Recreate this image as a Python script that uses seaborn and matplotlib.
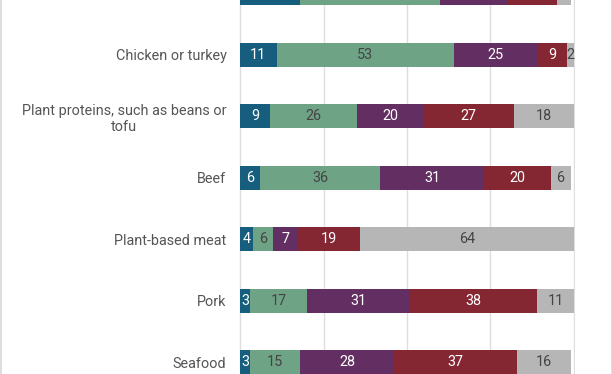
import seaborn as sns
import matplotlib.pyplot as plt
import pandas as pd
import numpy as np
from matplotlib.lines import Line2D

# categories (top to bottom) and the five stacked segments
foods = ["Eggs", "Chicken or turkey", "Plant proteins, such as beans or\ntofu",
         "Beef", "Plant-based meat", "Pork", "Seafood"]
seg1 = [18, 11, 9, 6, 4, 3, 3]
seg2 = [42, 53, 26, 36, 6, 17, 15]
seg3 = [20, 25, 20, 31, 7, 31, 28]
seg4 = [15, 9, 27, 20, 19, 38, 37]
seg5 = [4, 2, 18, 6, 64, 11, 16]

colors = ["#175e7e", "#6ea386", "#632f62", "#852733", "#b6b6b6"]
text_colors = ["white", "#444444", "white", "white", "#444444"]

sns.set_style("white")
plt.rcParams['font.family'] = ['Roboto', 'DejaVu Sans']

segs = np.array([seg1, seg2, seg3, seg4, seg5])
cum = segs.cumsum(axis=0)

fig = plt.figure(figsize=(6.12, 3.74), dpi=100)
ax = fig.add_axes([239 / 612, 0, 336 / 612, 1])

# draw cumulative totals from the longest to the shortest so they stack
for i in range(len(segs) - 1, -1, -1):
    df = pd.DataFrame({"food": foods, "total": cum[i]})
    sns.barplot(data=df, y="food", x="total", order=foods, orient="h",
                color=colors[i], width=0.39, linewidth=0, saturation=1,
                ax=ax, zorder=2)

ylo, yhi = 6.195, 0.106

# value labels (the top row sits mostly outside the crop, so skip it)
for i in range(len(segs)):
    for j in range(len(foods)):
        if j < yhi + 0.1:
            continue
        mid = cum[i][j] - segs[i][j] / 2
        ax.text(mid, j, str(segs[i][j]), ha="center", va="center",
                color=text_colors[i], fontsize=10.4, zorder=3)

ax.set_xlim(-0.3, 100.3)
ax.set_ylim(ylo, yhi)
ax.set_xticks([0, 25, 50, 75, 100])
ax.xaxis.grid(True, color="#dedede", linewidth=1, zorder=0)
ax.set_axisbelow(True)
ax.tick_params(axis="x", labelbottom=False, length=0)
ax.tick_params(axis="y", length=0, pad=9, labelsize=10.4, labelcolor="#555555")
for t in ax.get_yticklabels():
    t.set_multialignment("center")
ax.set_xlabel("")
ax.set_ylabel("")
sns.despine(ax=ax, left=True, bottom=True)

# light frame edges on the sides
fig.add_artist(Line2D([0.5 / 612, 0.5 / 612], [0, 1], color="#d8d8d8", lw=1.2))
fig.add_artist(Line2D([611.5 / 612, 611.5 / 612], [0, 1], color="#d8d8d8", lw=1.2))

fig.savefig("out.png", dpi=100)
